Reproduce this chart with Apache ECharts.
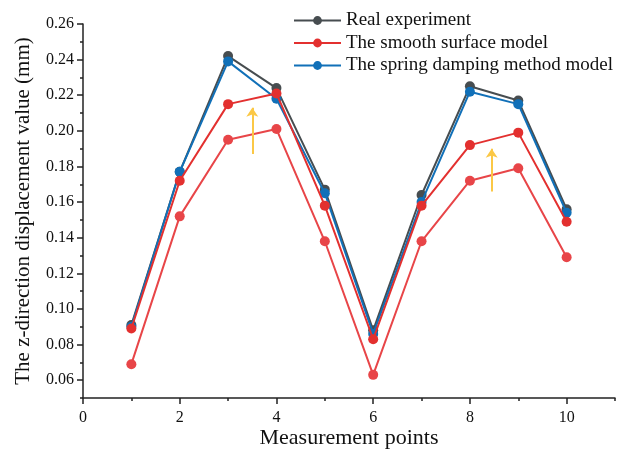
<!DOCTYPE html>
<html>
<head>
<meta charset="utf-8">
<script src="https://cdn.jsdelivr.net/npm/echarts@6/dist/echarts.min.js"></script>
<style>html,body{margin:0;padding:0;background:#fff;}#c{width:625px;height:450px;}</style>
</head>
<body>
<div id="c"></div>
<script>
const points = [1, 2, 3, 4, 5, 6, 7, 8, 9, 10];
const realExperiment = [0.091, 0.177, 0.242, 0.224, 0.167, 0.088, 0.164, 0.225, 0.217, 0.156];
const springModel = [0.090, 0.177, 0.239, 0.218, 0.165, 0.086, 0.160, 0.222, 0.215, 0.154];
const smoothModel = [0.089, 0.172, 0.215, 0.221, 0.158, 0.083, 0.158, 0.192, 0.199, 0.149];
const smoothModelLower = [0.069, 0.152, 0.195, 0.201, 0.138, 0.063, 0.138, 0.172, 0.179, 0.129];
const arrows = [
  [[3.5, 0.187], [3.5, 0.213]],
  [[8.45, 0.166], [8.45, 0.190]]
];
const xMajorTicks = [0, 2, 4, 6, 8, 10];
const xMinorTicks = [1, 3, 5, 7, 9, 11];
const yMajorTicks = [0.06, 0.08, 0.10, 0.12, 0.14, 0.16, 0.18, 0.20, 0.22, 0.24, 0.26];
const yMinorTicks = [0.05, 0.07, 0.09, 0.11, 0.13, 0.15, 0.17, 0.19, 0.21, 0.23, 0.25];

const serif = '"Liberation Serif", "Times New Roman", serif';
const axisColor = '#222';

function pairs(ys) { return points.map((x, i) => [x, ys[i]]); }

function lineSeries(name, ys, color, z) {
  return {
    name: name, type: 'line', data: pairs(ys),
    xAxisIndex: 0, yAxisIndex: 0,
    symbol: 'circle', symbolSize: 10,
    lineStyle: { color: color, width: 2 },
    itemStyle: { color: color },
    z: z
  };
}

const chart = echarts.init(document.getElementById('c'));
chart.setOption({
  animation: false,
  backgroundColor: '#fff',
  grid: { left: 83, right: 10, top: 24, bottom: 52, containLabel: false, outerBoundsMode: 'none' },
  legend: {
    data: ['Real experiment', 'The smooth surface model', 'The spring damping method model'],
    orient: 'vertical', left: 288, top: 6, itemGap: 3.5,
    itemWidth: 47, itemHeight: 11,
    textStyle: { fontFamily: serif, fontSize: 19, lineHeight: 19, color: '#111' }
  },
  xAxis: [{
    type: 'value', min: 0, max: 11, position: 'bottom',
    name: 'Measurement points', nameLocation: 'middle', nameGap: 29, nameMoveOverlap: false,
    nameTextStyle: { fontFamily: serif, fontSize: 22, color: '#111' },
    axisLine: { show: true, lineStyle: { color: axisColor, width: 1.5 } },
    axisTick: { show: true, length: 6, customValues: xMajorTicks, lineStyle: { color: axisColor, width: 1.5 } },
    axisLabel: { customValues: xMajorTicks, fontFamily: serif, fontSize: 16, color: '#111', margin: 12 },
    splitLine: { show: false }
  }, {
    type: 'value', min: 0, max: 11, position: 'bottom',
    axisLine: { show: false },
    axisTick: { show: true, length: 3, customValues: xMinorTicks, lineStyle: { color: axisColor, width: 1.5 } },
    axisLabel: { show: false },
    splitLine: { show: false }
  }],
  yAxis: [{
    type: 'value', min: 0.05, max: 0.26, position: 'left',
    name: 'The z-direction displacement value (mm)', nameLocation: 'middle', nameGap: 49, nameMoveOverlap: false,
    nameTextStyle: { fontFamily: serif, fontSize: 21, color: '#111' },
    axisLine: { show: true, lineStyle: { color: axisColor, width: 1.5 } },
    axisTick: { show: true, length: 6, customValues: yMajorTicks, lineStyle: { color: axisColor, width: 1.5 } },
    axisLabel: { customValues: yMajorTicks, formatter: v => v.toFixed(2), fontFamily: serif, fontSize: 16, color: '#111', margin: 9 },
    splitLine: { show: false }
  }, {
    type: 'value', min: 0.05, max: 0.26, position: 'left',
    axisLine: { show: false },
    axisTick: { show: true, length: 3, customValues: yMinorTicks, lineStyle: { color: axisColor, width: 1.5 } },
    axisLabel: { show: false },
    splitLine: { show: false }
  }],
  series: [
    lineSeries('Smooth surface model (lower)', smoothModelLower, '#e84548', 2),
    lineSeries('Real experiment', realExperiment, '#474d50', 3),
    lineSeries('The spring damping method model', springModel, '#1170b8', 4),
    lineSeries('The smooth surface model', smoothModel, '#e3302f', 5),
    {
      type: 'lines', coordinateSystem: 'cartesian2d', xAxisIndex: 0, yAxisIndex: 0,
      data: arrows.map(a => ({ coords: a })),
      symbol: ['none', 'arrow'], symbolSize: [0, 9],
      lineStyle: { color: '#fbc846', width: 2, opacity: 1 },
      z: 6
    }
  ]
});
</script>
</body>
</html>
